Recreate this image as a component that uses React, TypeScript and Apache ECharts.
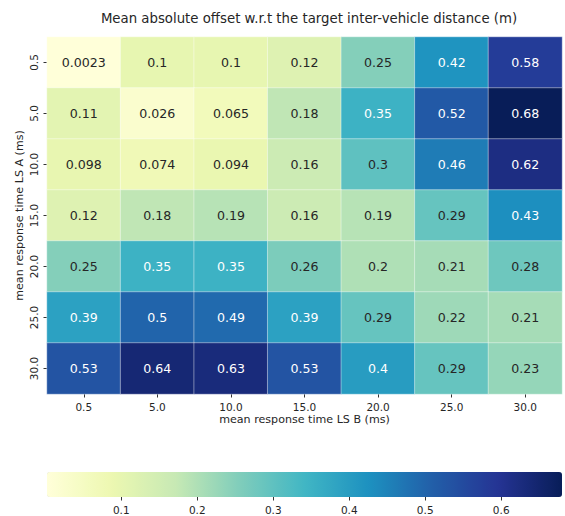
import React, { useEffect, useRef } from "react";
import * as echarts from "echarts";

const xCategories = ["0.5", "5.0", "10.0", "15.0", "20.0", "25.0", "30.0"];
const yCategories = ["0.5", "5.0", "10.0", "15.0", "20.0", "25.0", "30.0"];

const row05 = [0.0023, 0.1, 0.1, 0.12, 0.25, 0.42, 0.58];
const row5 = [0.11, 0.026, 0.065, 0.18, 0.35, 0.52, 0.68];
const row10 = [0.098, 0.074, 0.094, 0.16, 0.3, 0.46, 0.62];
const row15 = [0.12, 0.18, 0.19, 0.16, 0.19, 0.29, 0.43];
const row20 = [0.25, 0.35, 0.35, 0.26, 0.2, 0.21, 0.28];
const row25 = [0.39, 0.5, 0.49, 0.39, 0.29, 0.22, 0.21];
const row30 = [0.53, 0.64, 0.63, 0.53, 0.4, 0.29, 0.23];

const rows = [row05, row5, row10, row15, row20, row25, row30];

const colorbarTicks = [0.1, 0.2, 0.3, 0.4, 0.5, 0.6];
const vMin = 0.0023;
const vMax = 0.68;

const YlGnBu = [
  "#ffffd9",
  "#edf8b1",
  "#c7e9b4",
  "#7fcdbb",
  "#41b6c4",
  "#1d91c0",
  "#225ea8",
  "#253494",
  "#081d58",
];

const FONT = "DejaVu Sans";

export default function App() {
  const ref = useRef<HTMLDivElement>(null);

  useEffect(() => {
    if (!ref.current) return;
    const chart = echarts.init(ref.current, undefined, { renderer: "svg" });

    const data: any[] = [];
    rows.forEach((r, yi) => {
      r.forEach((v, xi) => {
        data.push({
          value: [xi, yi, v],
          label: { color: v > 0.32 ? "#ffffff" : "#262626" },
        });
      });
    });

    chart.setOption({
      animation: false,
      backgroundColor: "#ffffff",
      title: {
        text: "Mean absolute offset w.r.t the target inter-vehicle distance (m)",
        left: 304,
        textAlign: "center",
        top: 7,
        textStyle: {
          fontFamily: FONT,
          fontSize: 13.3,
          fontWeight: "normal",
          color: "#262626",
        },
      },
      grid: [
        { left: 47, top: 37, width: 515, height: 357 },
        { left: 47, top: 472, width: 515, height: 25 },
      ],
      xAxis: [
        {
          type: "category",
          gridIndex: 0,
          data: xCategories,
          name: "mean response time LS B (ms)",
          nameLocation: "middle",
          nameGap: 19.5,
          nameMoveOverlap: false,
          nameTextStyle: {
            fontFamily: FONT,
            fontSize: 11.1,
            color: "#262626",
            verticalAlign: "top",
          },
          axisLine: { show: false },
          axisTick: {
            show: true,
            alignWithLabel: true,
            length: 3.5,
            lineStyle: { color: "#333" },
          },
          axisLabel: { fontFamily: FONT, fontSize: 10.5, color: "#262626", margin: 7.5 },
          splitLine: { show: false },
        },
        {
          type: "value",
          gridIndex: 1,
          min: vMin,
          max: vMax,
          axisLine: { show: false },
          axisTick: {
            show: true,
            length: 3.5,
            customValues: colorbarTicks,
            lineStyle: { color: "#333" },
          },
          axisLabel: {
            fontFamily: FONT,
            fontSize: 10.5,
            color: "#262626",
            margin: 7,
            customValues: colorbarTicks,
            formatter: (v: number) => String(Math.round(v * 10) / 10),
          },
          splitLine: { show: false },
        },
      ],
      yAxis: [
        {
          type: "category",
          gridIndex: 0,
          data: yCategories,
          inverse: true,
          name: "mean response time LS A (ms)",
          nameLocation: "middle",
          nameGap: 22,
          nameMoveOverlap: false,
          nameRotate: 90,
          nameTextStyle: {
            fontFamily: FONT,
            fontSize: 11.1,
            color: "#262626",
          },
          axisLine: { show: false },
          axisTick: {
            show: true,
            alignWithLabel: true,
            length: 3.5,
            lineStyle: { color: "#333" },
          },
          axisLabel: {
            fontFamily: FONT,
            fontSize: 10.5,
            color: "#262626",
            rotate: 90,
            margin: 7.5,
          },
          splitLine: { show: false },
        },
        {
          type: "value",
          gridIndex: 1,
          show: false,
        },
      ],
      visualMap: {
        type: "continuous",
        min: vMin,
        max: vMax,
        seriesIndex: 0,
        orient: "horizontal",
        left: 47,
        top: 472,
        padding: 0,
        itemWidth: 25,
        itemHeight: 515,
        calculable: false,
        inRange: { color: YlGnBu },
      },
      series: [
        {
          type: "heatmap",
          xAxisIndex: 0,
          yAxisIndex: 0,
          data,
          itemStyle: { borderColor: "rgba(255,255,255,0.7)", borderWidth: 0.6 },
          label: {
            show: true,
            fontFamily: FONT,
            fontSize: 12.6,
            formatter: (p: any) => String(p.value[2]),
          },
        },
      ],
    });

    return () => chart.dispose();
  }, []);

  return (
    <div
      ref={ref}
      style={{ position: "fixed", left: 0, top: 0, width: 565, height: 516 }}
    />
  );
}
